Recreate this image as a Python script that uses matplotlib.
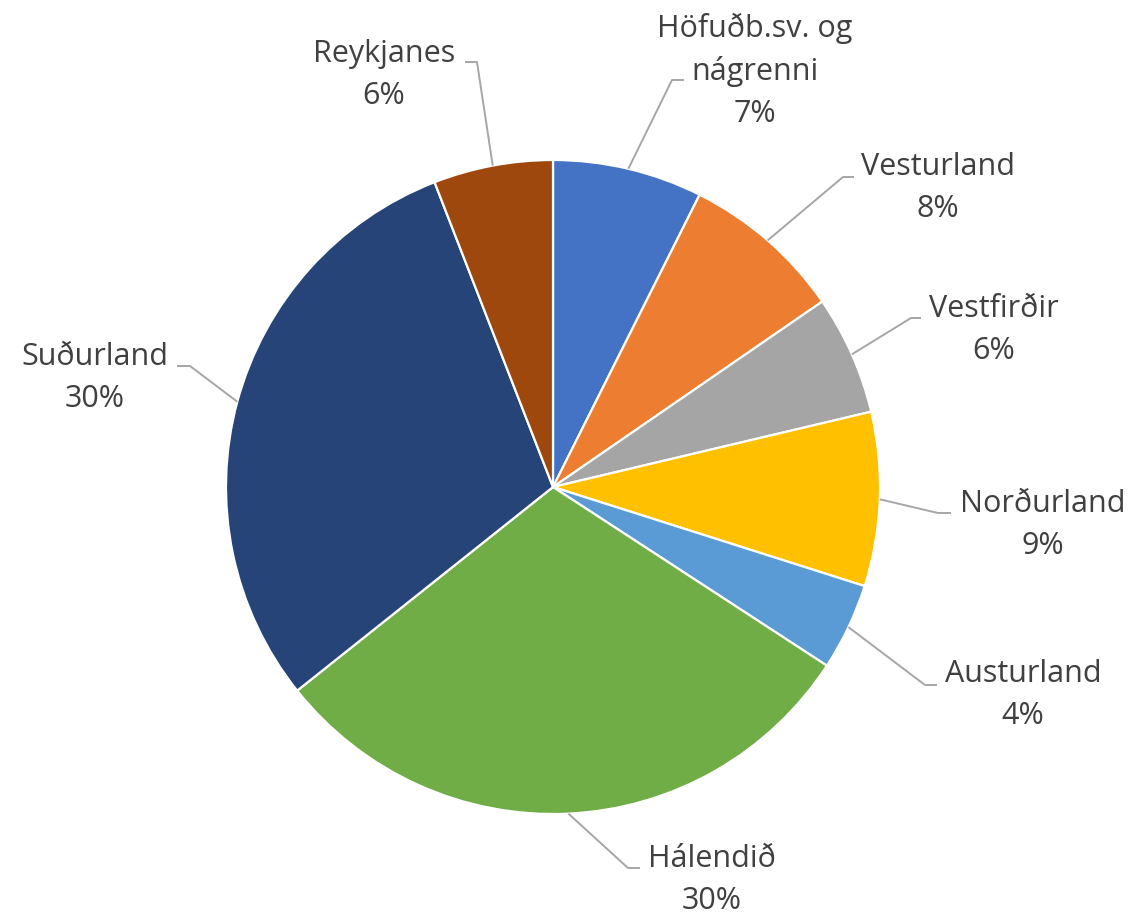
import matplotlib
matplotlib.use("Agg")
import matplotlib.pyplot as plt
import numpy as np

# ---- data ----
regions = ["Höfuðb.sv. og\nnágrenni", "Vesturland", "Vestfirðir", "Norðurland",
           "Austurland", "Hálendið", "Suðurland", "Reykjanes"]
shares = [7.4, 8.0, 5.9, 8.6, 4.3, 30.1, 29.8, 5.9]
colors = ["#4472C4", "#ED7D31", "#A5A5A5", "#FFC000",
          "#5B9BD5", "#70AD47", "#264478", "#9E480E"]

# ---- layout (pixel positions of label elbows / text centres) ----
W, H, DPI = 1136, 919, 100
CX, CY, R = 553, 487, 327
elbow_px = [(672, 80), (843, 177), (911, 318), (938, 513),
            (925, 685), (628, 868), (190, 366), (477, 62)]
end_px = [(684, 80), (854, 177), (921, 318), (951, 513),
          (937, 685), (640, 868), (177, 366), (465, 62)]
text_px = [(755, 71), (938, 188), (994, 330), (1043, 525),
           (1023, 695), (712, 880), (95, 378), (384, 75)]


def to_data(p):
    return ((p[0] - CX) / R, (CY - p[1]) / R)


plt.rcParams['font.family'] = ['Open Sans', 'DejaVu Sans']

fig = plt.figure(figsize=(W / DPI, H / DPI), dpi=DPI)
ax = fig.add_axes([0, 0, 1, 1])

wedges, _ = ax.pie(shares, colors=colors, startangle=90, counterclock=False,
                   radius=1.0, center=(0, 0),
                   wedgeprops=dict(edgecolor='white', linewidth=1.6))
ax.set_xlim(-CX / R, (W - CX) / R)
ax.set_ylim(-(H - CY) / R, CY / R)
ax.set_aspect('equal')
ax.axis('off')

for i, w in enumerate(wedges):
    mid = np.deg2rad((w.theta1 + w.theta2) / 2)
    ax0, ay0 = np.cos(mid), np.sin(mid)
    ex, ey = to_data(elbow_px[i])
    fx, fy = to_data(end_px[i])
    ax.plot([ax0, ex, fx], [ay0, ey, fy], color='#A6A6A6', lw=1.4,
            solid_capstyle='butt', zorder=1)
    tx, ty = to_data(text_px[i])
    ax.text(tx, ty, f"{regions[i]}\n{round(shares[i]):d}%", ha='center', va='center',
            multialignment='center', fontsize=22, color='#404040',
            linespacing=1.5)

fig.savefig("out.png", dpi=DPI)
